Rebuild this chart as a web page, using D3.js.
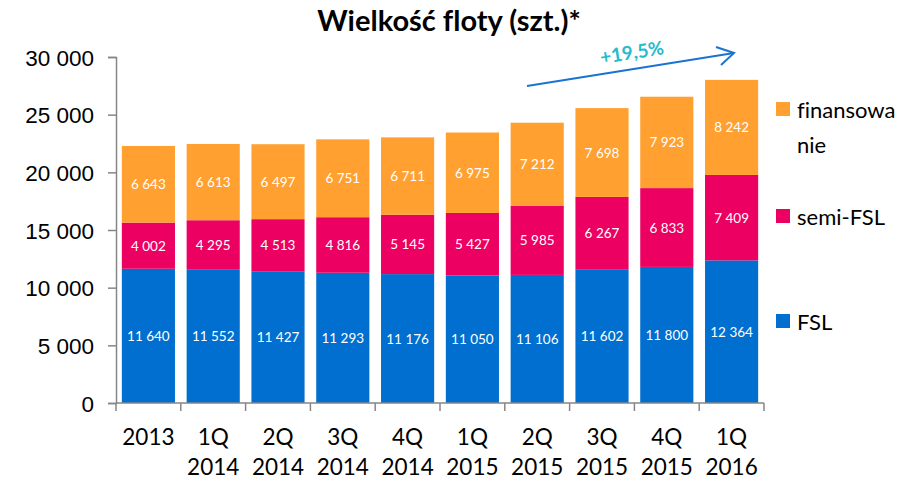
<!DOCTYPE html>
<html>
  <head>
    <meta charset="utf-8">
    <title>Wielkość floty</title>
    <script src="https://d3js.org/d3.v7.min.js"></script>
    <style>
      body { margin: 0; background: #fff; }
      svg { font-family: Lato, "Open Sans", sans-serif; font-variant-ligatures: none; }
      .axis path, .axis line { stroke: #868686; stroke-width: 1.5; }
      .axis text { fill: #000; font-size: 22.5px; }
      .value { fill: #fff; font-size: 13.5px; text-anchor: middle; }
    </style>
  </head>
  <body>
    <svg id="chart" width="909" height="482"></svg>
    <script>
      // chart data
      var periods = ["2013", "1Q 2014", "2Q 2014", "3Q 2014", "4Q 2014", "1Q 2015", "2Q 2015", "3Q 2015", "4Q 2015", "1Q 2016"];
      var fsl = [11640, 11552, 11427, 11293, 11176, 11050, 11106, 11602, 11800, 12364];
      var semiFsl = [4002, 4295, 4513, 4816, 5145, 5427, 5985, 6267, 6833, 7409];
      var finansowanie = [6643, 6613, 6497, 6751, 6711, 6975, 7212, 7698, 7923, 8242];
      var yTicks = [0, 5000, 10000, 15000, 20000, 25000, 30000];
      var seriesNames = ["FSL", "semi-FSL", "finansowanie"];
      var seriesColours = ["#006fcf", "#ec0062", "#ffa030"];
      var growthLabel = "+19,5%";

      var table = periods.map(function(p, i) {
        return { period: p, "FSL": fsl[i], "semi-FSL": semiFsl[i], "finansowanie": finansowanie[i] };
      });
      var stacked = d3.stack().keys(seriesNames)(table);

      var chart = d3.select("#chart");
      var margin = { top: 57, left: 116, right: 145, bottom: 79 };
      var width = 909, height = 482;

      var x = d3.scaleBand()
        .domain(periods)
        .range([margin.left, width - margin.right])
        .paddingInner(0.18)
        .paddingOuter(0.09);
      var y = d3.scaleLinear()
        .domain([0, 30000])
        .range([height - margin.bottom, margin.top]);

      var fmt = function(v) { return d3.format(",")(v).replace(/,/g, " "); };

      // bars
      var groups = chart.append("g")
        .selectAll("g")
        .data(stacked)
        .enter().append("g")
          .attr("fill", function(d, i) { return seriesColours[i]; });
      groups.selectAll("rect")
        .data(function(d) { return d; })
        .enter().append("rect")
          .attr("x", function(d) { return x(d.data.period); })
          .attr("width", x.bandwidth())
          .attr("y", function(d) { return y(d[1]); })
          .attr("height", function(d) { return y(d[0]) - y(d[1]); });
      groups.selectAll("text")
        .data(function(d) { return d.map(function(e) { return { seg: e, key: d.key }; }); })
        .enter().append("text")
          .classed("value", true)
          .attr("x", function(d) { return x(d.seg.data.period) + x.bandwidth() / 2; })
          .attr("y", function(d) { return (y(d.seg[0]) + y(d.seg[1])) / 2 + 5; })
          .text(function(d) { return fmt(d.seg.data[d.key]); });

      // y axis
      var yAxis = chart.append("g")
        .attr("class", "axis")
        .attr("transform", "translate(" + margin.left + ",0)")
        .call(d3.axisLeft(y).tickValues(yTicks).tickSizeOuter(0).tickSize(8).tickPadding(14).tickFormat(fmt));
      yAxis.selectAll("text").attr("dy", "0.36em");

      // x axis with boundary ticks
      var xAxis = chart.append("g")
        .attr("class", "axis")
        .attr("transform", "translate(0," + (height - margin.bottom) + ")");
      xAxis.append("line")
        .attr("x1", margin.left).attr("x2", width - margin.right);
      var step = x.step();
      var bounds = d3.range(periods.length + 1).map(function(i) { return x(periods[0]) - x.step() * x.paddingOuter() + i * step; });
      xAxis.selectAll(".bound")
        .data(bounds)
        .enter().append("line")
          .attr("class", "bound")
          .attr("x1", function(d) { return d; }).attr("x2", function(d) { return d; })
          .attr("y1", 0).attr("y2", 8);
      var labels = xAxis.selectAll(".lbl")
        .data(periods)
        .enter().append("text")
          .attr("class", "lbl")
          .attr("text-anchor", "middle")
          .attr("x", function(d) { return x(d) + x.bandwidth() / 2; })
          .attr("y", 42);
      labels.selectAll("tspan")
        .data(function(d) { return d.split(" "); })
        .enter().append("tspan")
          .attr("x", function() { return this.parentNode.getAttribute("x"); })
          .attr("dy", function(d, i) { return i ? 30 : 0; })
          .text(function(d) { return d; });

      // title
      chart.append("text")
        .attr("x", 449).attr("y", 31)
        .attr("text-anchor", "middle")
        .style("font-size", "29px").style("font-weight", "bold")
        .text("Wielkość floty (szt.)*");

      // growth arrow
      var arrow = chart.append("g")
        .attr("stroke", "#1a73d2").attr("stroke-width", 2).attr("fill", "none");
      arrow.append("line").attr("x1", 527).attr("y1", 86).attr("x2", 734).attr("y2", 53);
      arrow.append("path").attr("d", "M716,47 L734,53 L721,65");
      chart.append("text")
        .attr("transform", "translate(633,59) rotate(-9)")
        .attr("text-anchor", "middle")
        .style("font-size", "19px").style("font-weight", "bold")
        .attr("fill", "#22bccb")
        .text(growthLabel);

      // legend
      var legend = chart.append("g").attr("transform", "translate(776,0)");
      var legendItems = [
        { name: seriesNames[2], lines: ["finansowa", "nie"], y: 110 },
        { name: seriesNames[1], lines: ["semi-FSL"], y: 217 },
        { name: seriesNames[0], lines: ["FSL"], y: 322 }
      ];
      legendItems.forEach(function(it) {
        var i = seriesNames.indexOf(it.name);
        legend.append("rect")
          .attr("x", 0).attr("y", it.y - 8).attr("width", 14).attr("height", 14)
          .attr("fill", seriesColours[i]);
        var t = legend.append("text").attr("y", it.y + 8).style("font-size", "22px");
        it.lines.forEach(function(l, j) {
          t.append("tspan").attr("x", 21).attr("dy", j ? 35 : 0).text(l);
        });
      });
    </script>
  </body>
</html>
